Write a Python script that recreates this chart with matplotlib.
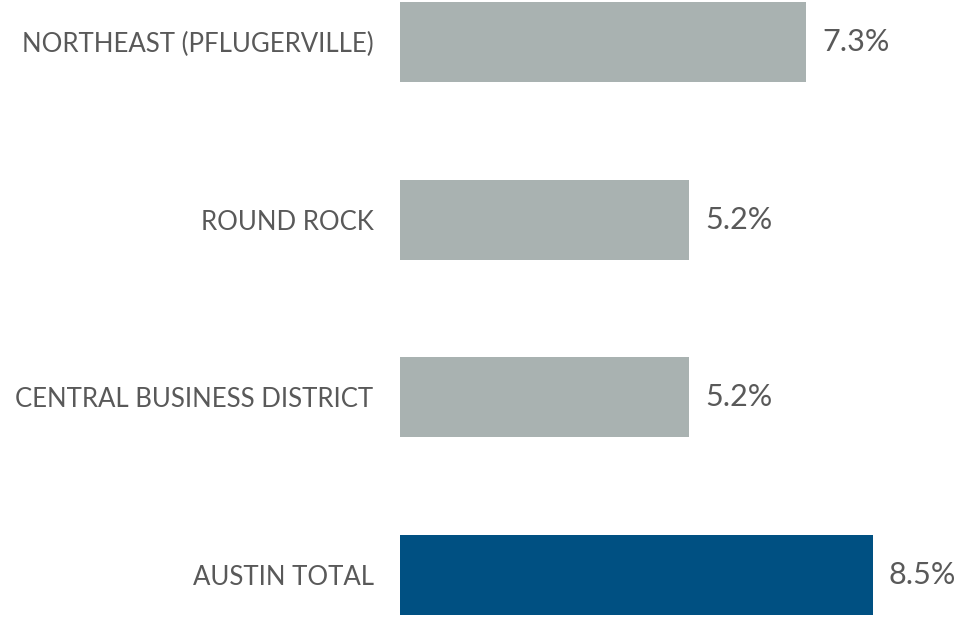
import matplotlib
matplotlib.use("Agg")
import matplotlib.pyplot as plt

categories = ["NORTHEAST (PFLUGERVILLE)", "ROUND ROCK", "CENTRAL BUSINESS DISTRICT", "AUSTIN TOTAL"]
values = [7.3, 5.2, 5.2, 8.5]
value_labels = ["7.3%", "5.2%", "5.2%", "8.5%"]
colors = ["#A9B2B1", "#A9B2B1", "#A9B2B1", "#005082"]

plt.rcParams['font.family'] = ['Lato', 'DejaVu Sans']

fig = plt.figure(figsize=(9.78, 6.19), dpi=100)
ax = fig.add_axes([400/978, 0, 578/978, 1])
y = list(range(len(categories)))
ax.barh(y, values, height=0.45, color=colors)
ax.set_xlim(0, 578/55.6)
ax.set_ylim(3 + 44/177.7, -42/177.7)
for yi, v, lab in zip(y, values, value_labels):
    ax.text(v + 16/55.6, yi, lab, va='center', ha='left', fontsize=22, color='#595959')
ax.set_yticks(y)
ax.set_yticklabels(categories, fontsize=18.5, color='#595959')
ax.tick_params(axis='y', length=0, pad=19)
ax.set_xticks([])
for s in ax.spines.values():
    s.set_visible(False)
fig.savefig("out.png", dpi=100)
